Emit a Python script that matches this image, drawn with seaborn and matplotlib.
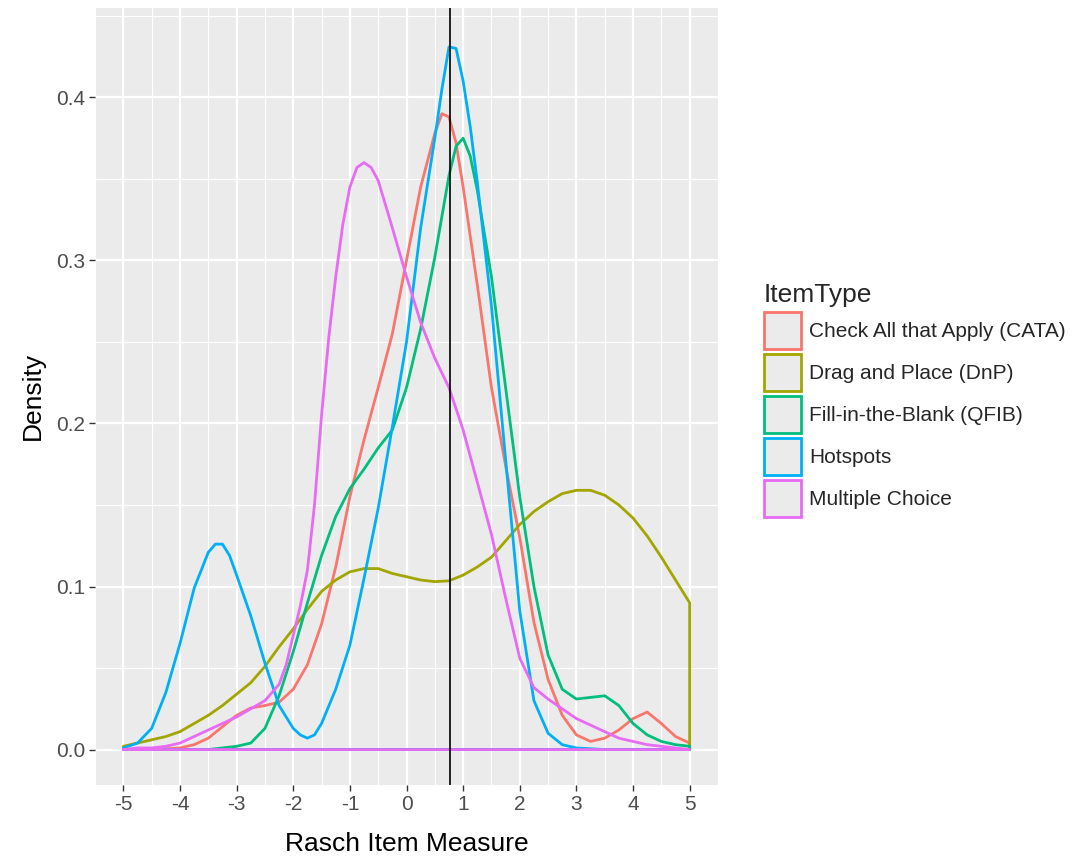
import pandas as pd
import matplotlib
matplotlib.use("Agg")
import matplotlib.pyplot as plt
from matplotlib.patches import Patch
from matplotlib.ticker import MultipleLocator, FormatStrFormatter
import seaborn as sns

# density curves (Rasch item measure -> density)
cata_x = [-5.0, -4.5, -4.0, -3.75, -3.5, -3.25, -3.0, -2.75, -2.5, -2.25,
          -2.0, -1.75, -1.5, -1.25, -1.0, -0.75, -0.5, -0.25, 0.0, 0.25,
          0.5, 0.625, 0.75, 0.875, 1.0, 1.25, 1.5, 1.75, 2.0, 2.25,
          2.5, 2.75, 3.0, 3.25, 3.5, 3.75, 4.0, 4.25, 4.5, 4.75, 5.0]
cata_y = [0.000, 0.000, 0.001, 0.003, 0.007, 0.014, 0.021, 0.0255, 0.027, 0.029,
          0.037, 0.052, 0.077, 0.112, 0.155, 0.190, 0.222, 0.255, 0.300, 0.345,
          0.378, 0.390, 0.388, 0.372, 0.345, 0.285, 0.222, 0.174, 0.130, 0.078,
          0.043, 0.021, 0.009, 0.005, 0.007, 0.012, 0.019, 0.023, 0.016, 0.008, 0.004]

dnp_x = [-5.0, -4.75, -4.5, -4.25, -4.0, -3.75, -3.5, -3.25, -3.0, -2.75,
         -2.5, -2.25, -2.0, -1.75, -1.5, -1.25, -1.0, -0.75, -0.5, -0.25,
         0.0, 0.25, 0.5, 0.75, 1.0, 1.25, 1.5, 1.75, 2.0, 2.25,
         2.5, 2.75, 3.0, 3.25, 3.5, 3.75, 4.0, 4.25, 4.5, 4.75, 5.0]
dnp_y = [0.002, 0.004, 0.006, 0.008, 0.011, 0.016, 0.021, 0.027, 0.034, 0.041,
         0.051, 0.063, 0.074, 0.086, 0.097, 0.104, 0.109, 0.111, 0.111, 0.108,
         0.106, 0.104, 0.103, 0.1035, 0.107, 0.112, 0.118, 0.128, 0.138, 0.146,
         0.152, 0.157, 0.159, 0.159, 0.156, 0.150, 0.142, 0.131, 0.118, 0.104, 0.090]

qfib_x = [-5.0, -4.0, -3.5, -3.25, -3.0, -2.75, -2.5, -2.25, -2.0, -1.75,
          -1.5, -1.25, -1.0, -0.75, -0.5, -0.25, 0.0, 0.25, 0.5, 0.75,
          0.875, 1.0, 1.125, 1.25, 1.5, 1.75, 2.0, 2.25, 2.5, 2.75,
          3.0, 3.25, 3.5, 3.75, 4.0, 4.25, 4.5, 4.75, 5.0]
qfib_y = [0.000, 0.000, 0.000, 0.001, 0.002, 0.004, 0.013, 0.033, 0.060, 0.090,
          0.119, 0.143, 0.160, 0.172, 0.185, 0.196, 0.222, 0.258, 0.302, 0.352,
          0.370, 0.375, 0.364, 0.343, 0.290, 0.222, 0.155, 0.100, 0.058, 0.037,
          0.031, 0.032, 0.033, 0.027, 0.016, 0.009, 0.005, 0.003, 0.002]

hotspots_x = [-5.0, -4.75, -4.5, -4.25, -4.0, -3.75, -3.5, -3.375, -3.25, -3.125,
              -3.0, -2.75, -2.5, -2.25, -2.0, -1.875, -1.75, -1.625, -1.5, -1.25,
              -1.0, -0.75, -0.5, -0.25, 0.0, 0.25, 0.5, 0.625, 0.75, 0.875,
              1.0, 1.125, 1.25, 1.5, 1.75, 2.0, 2.25, 2.5, 2.75, 3.0,
              3.5, 4.0, 4.5, 5.0]
hotspots_y = [0.001, 0.004, 0.013, 0.035, 0.065, 0.099, 0.121, 0.126, 0.126, 0.119,
              0.107, 0.082, 0.053, 0.027, 0.013, 0.009, 0.007, 0.009, 0.016, 0.037,
              0.064, 0.105, 0.148, 0.198, 0.250, 0.320, 0.375, 0.405, 0.431, 0.430,
              0.410, 0.382, 0.348, 0.272, 0.178, 0.085, 0.030, 0.010, 0.003, 0.001,
              0.000, 0.000, 0.000, 0.000]

mc_x = [-5.0, -4.75, -4.5, -4.25, -4.0, -3.75, -3.5, -3.25, -3.0, -2.75,
        -2.5, -2.25, -2.125, -2.0, -1.875, -1.75, -1.625, -1.5, -1.375, -1.25,
        -1.125, -1.0, -0.875, -0.75, -0.625, -0.5, -0.25, 0.0, 0.25, 0.5,
        0.75, 1.0, 1.25, 1.5, 1.75, 2.0, 2.25, 2.5, 2.75, 3.0,
        3.25, 3.5, 3.75, 4.0, 4.25, 4.5, 4.75, 5.0]
mc_y = [0.000, 0.001, 0.001, 0.002, 0.004, 0.008, 0.012, 0.016, 0.020, 0.025,
        0.030, 0.040, 0.052, 0.070, 0.088, 0.110, 0.150, 0.205, 0.252, 0.290,
        0.322, 0.345, 0.357, 0.360, 0.357, 0.349, 0.320, 0.290, 0.262, 0.240,
        0.222, 0.196, 0.164, 0.132, 0.093, 0.056, 0.038, 0.031, 0.025, 0.019,
        0.015, 0.011, 0.007, 0.005, 0.003, 0.002, 0.001, 0.000]

item_types = ["Check All that Apply (CATA)", "Drag and Place (DnP)",
              "Fill-in-the-Blank (QFIB)", "Hotspots", "Multiple Choice"]
colors = ["#F8766D", "#A3A500", "#00BF7D", "#00B0F6", "#E76BF3"]
mean_measure = 0.76

# long table; each curve is closed along the baseline like a ggplot density outline
curves = [(cata_x, cata_y), (dnp_x, dnp_y), (qfib_x, qfib_y),
          (hotspots_x, hotspots_y), (mc_x, mc_y)]
rows = []
for name, (xs, ys) in zip(item_types, curves):
    xs = xs + [xs[-1], xs[0]]
    ys = ys + [0.0, 0.0]
    for x, y in zip(xs, ys):
        rows.append({"measure": x, "density": y, "ItemType": name})
df = pd.DataFrame(rows)

sns.set_theme(style="darkgrid", rc={
    "axes.facecolor": "#EBEBEB",
    "grid.color": "white",
    "axes.edgecolor": "#EBEBEB",
})
plt.rcParams["font.family"] = ["Liberation Sans", "DejaVu Sans"]
plt.rcParams["axes.unicode_minus"] = False

fig = plt.figure(figsize=(10.74, 8.56), dpi=100)
ax = fig.add_axes([0.0885, 0.083, 0.58, 0.908])

sns.lineplot(data=df, x="measure", y="density", hue="ItemType",
             hue_order=item_types, palette=colors, sort=False,
             estimator=None, linewidth=2.0, legend=False, ax=ax)
ax.axvline(mean_measure, color="black", linewidth=1.2)

ax.set_xlim(-5.5, 5.5)
ax.set_ylim(-0.0217, 0.455)
ax.xaxis.set_major_locator(MultipleLocator(1))
ax.xaxis.set_minor_locator(MultipleLocator(0.5))
ax.yaxis.set_major_locator(MultipleLocator(0.1))
ax.yaxis.set_minor_locator(MultipleLocator(0.05))
ax.yaxis.set_major_formatter(FormatStrFormatter("%.1f"))
ax.grid(which="major", color="white", linewidth=1.6)
ax.grid(which="minor", color="white", linewidth=0.8)
ax.set_axisbelow(True)
for s in ax.spines.values():
    s.set_visible(False)

ax.tick_params(axis="both", which="major", length=4, width=1, color="#333333",
               labelsize=15, labelcolor="#4D4D4D", pad=3, bottom=True, left=True)
ax.tick_params(axis="both", which="minor", length=0)
ax.set_xlabel("Rasch Item Measure", fontsize=19, color="black", labelpad=13)
ax.set_ylabel("Density", fontsize=19, color="black", labelpad=8)

handles = [Patch(facecolor="#EBEBEB", edgecolor=c, linewidth=2.0) for c in colors]
leg = fig.legend(handles, item_types, title="ItemType", loc="upper left",
                 bbox_to_anchor=(0.711, 0.669), frameon=False,
                 fontsize=15, title_fontsize=19,
                 handlelength=1.78, handleheight=2.35, handletextpad=0.4,
                 labelspacing=0.24, borderaxespad=0, borderpad=0)
leg._legend_box.align = "left"

fig.savefig("out.png", dpi=100)
